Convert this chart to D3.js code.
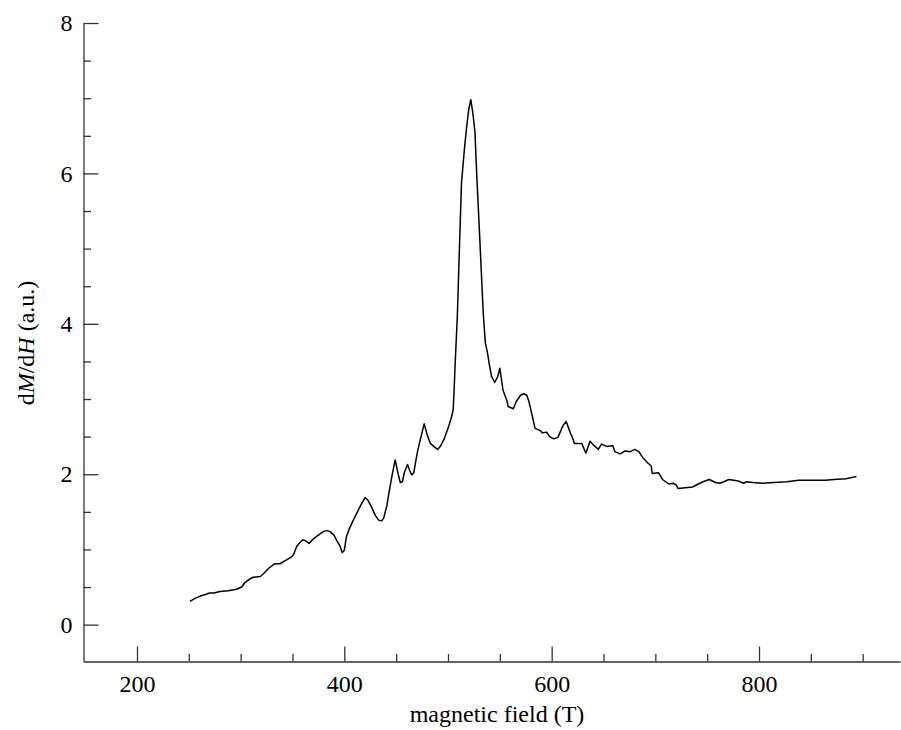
<!DOCTYPE html>
<html>
<head>
<meta charset="utf-8">
<script src="https://cdn.jsdelivr.net/npm/d3@7"></script>
<style>
  html, body { margin: 0; padding: 0; background: #fff; }
  svg { display: block; }
  .axis text { font-family: "Liberation Serif", "Times New Roman", serif; font-size: 24px; fill: #000; }
  .axis path, .axis line { stroke: #333; stroke-width: 1.3; }
  .title { font-family: "Liberation Serif", "Times New Roman", serif; font-size: 24px; fill: #000; }
</style>
</head>
<body>
<svg id="chart" width="901" height="730"></svg>
<script>
// Magnetic field (T)
const field = [
  251, 256, 261, 266, 270, 274, 280, 288, 296, 301, 304, 308, 312, 319, 323, 327,
  333, 338, 343, 348, 351, 354, 357, 360, 363, 366, 370, 375, 380, 383, 386, 390,
  393, 396, 398, 400, 402, 405, 409, 413, 417, 420, 423, 426, 430, 433, 436, 438,
  441, 443, 446, 449, 452, 454, 456, 458, 461, 463, 465, 467, 469, 471, 474, 477,
  480, 483, 487, 490, 493, 496, 500, 503, 505, 506, 507, 509, 511, 513, 516, 518,
  520, 522, 524, 526, 528, 531, 534, 536, 538, 540, 542, 545, 548, 550, 553, 557,
  558, 563, 566, 570, 573, 576, 578, 581, 584, 589, 591, 595, 598, 602, 606, 611,
  614, 618, 620, 622, 627, 629, 633, 637, 641, 645, 648, 653, 659, 661, 666, 671,
  676, 680, 684, 688, 692, 696, 697, 703, 707, 713, 717, 720, 722, 729, 736, 740,
  746, 752, 755, 758, 762, 766, 771, 780, 785, 788, 794, 804, 814, 827, 838, 852,
  864, 872, 884, 894
];

// dM/dH (a.u.)
const dMdH = [
  0.31, 0.35, 0.38, 0.40, 0.42, 0.42, 0.44, 0.45, 0.47, 0.50, 0.56, 0.60, 0.63, 0.64, 0.69, 0.75,
  0.81, 0.81, 0.85, 0.89, 0.93, 1.04, 1.09, 1.13, 1.11, 1.08, 1.14, 1.19, 1.24, 1.25, 1.24, 1.19,
  1.11, 1.04, 0.96, 0.99, 1.17, 1.28, 1.40, 1.51, 1.62, 1.69, 1.65, 1.57, 1.45, 1.39, 1.38, 1.42,
  1.58, 1.75, 1.98, 2.19, 2.00, 1.89, 1.90, 2.03, 2.13, 2.05, 1.99, 2.02, 2.18, 2.33, 2.50, 2.67,
  2.52, 2.41, 2.36, 2.33, 2.38, 2.46, 2.61, 2.74, 2.86, 3.15, 3.50, 4.10, 5.00, 5.87, 6.35, 6.62,
  6.85, 6.98, 6.80, 6.55, 5.90, 5.03, 4.14, 3.75, 3.62, 3.45, 3.30, 3.22, 3.30, 3.41, 3.12, 2.97,
  2.90, 2.87, 2.97, 3.05, 3.07, 3.05, 2.97, 2.79, 2.61, 2.58, 2.55, 2.56, 2.50, 2.47, 2.49, 2.65,
  2.70, 2.55, 2.49, 2.41, 2.41, 2.41, 2.28, 2.44, 2.38, 2.33, 2.40, 2.37, 2.38, 2.30, 2.27, 2.31,
  2.30, 2.33, 2.30, 2.22, 2.16, 2.11, 2.01, 2.02, 1.93, 1.87, 1.88, 1.86, 1.81, 1.82, 1.83, 1.86,
  1.90, 1.93, 1.91, 1.89, 1.88, 1.90, 1.93, 1.91, 1.88, 1.90, 1.89, 1.88, 1.89, 1.90, 1.92, 1.92,
  1.92, 1.93, 1.94, 1.97
];

const xMajorTicks = [200, 400, 600, 800];
const xMinorTicks = [250, 300, 350, 450, 500, 550, 650, 700, 750, 850, 900];
const yMajorTicks = [0, 2, 4, 6, 8];
const yMinorTicks = [0.5, 1, 1.5, 2.5, 3, 3.5, 4.5, 5, 5.5, 6.5, 7, 7.5];

const svg = d3.select("#chart");

const x = d3.scaleLinear().domain([148.4, 936]).range([83.5, 900]);
const y = d3.scaleLinear().domain([-0.49, 8]).range([661.5, 23]);

const x0 = x.range()[0];
const y0 = y.range()[0];

// Minor ticks (drawn first, without labels)
svg.append("g")
  .attr("class", "axis")
  .attr("transform", `translate(0,${y0})`)
  .call(d3.axisBottom(x).tickValues(xMinorTicks).tickSizeInner(-7.5).tickSizeOuter(0).tickFormat(""))
  .call(g => g.select(".domain").remove());

svg.append("g")
  .attr("class", "axis")
  .attr("transform", `translate(${x0},0)`)
  .call(d3.axisLeft(y).tickValues(yMinorTicks).tickSizeInner(-7.5).tickSizeOuter(0).tickFormat(""))
  .call(g => g.select(".domain").remove());

// Major ticks with labels
svg.append("g")
  .attr("class", "axis")
  .attr("transform", `translate(0,${y0})`)
  .call(d3.axisBottom(x).tickValues(xMajorTicks).tickSizeInner(-15).tickSizeOuter(0).tickPadding(13).tickFormat(d3.format("d")));

svg.append("g")
  .attr("class", "axis")
  .attr("transform", `translate(${x0},0)`)
  .call(d3.axisLeft(y).tickValues(yMajorTicks).tickSizeInner(-15).tickSizeOuter(0).tickPadding(11).tickFormat(d3.format("d")));

// Curve
const pts = field.map((f, i) => [f, dMdH[i]]);
svg.append("path")
  .datum(pts)
  .attr("fill", "none")
  .attr("stroke", "#000")
  .attr("stroke-width", 1.5)
  .attr("stroke-linejoin", "round")
  .attr("d", d3.line().x(d => x(d[0])).y(d => y(d[1])));

// Axis titles
svg.append("text")
  .attr("class", "title")
  .attr("x", 497)
  .attr("y", 721.5)
  .attr("text-anchor", "middle")
  .text("magnetic field (T)");

const yt = svg.append("text")
  .attr("class", "title")
  .attr("transform", "translate(34,343) rotate(-90)")
  .attr("text-anchor", "middle");
yt.append("tspan").text("d");
yt.append("tspan").attr("font-style", "italic").text("M");
yt.append("tspan").text("/d");
yt.append("tspan").attr("font-style", "italic").text("H");
yt.append("tspan").text(" (a.u.)");
</script>
</body>
</html>
